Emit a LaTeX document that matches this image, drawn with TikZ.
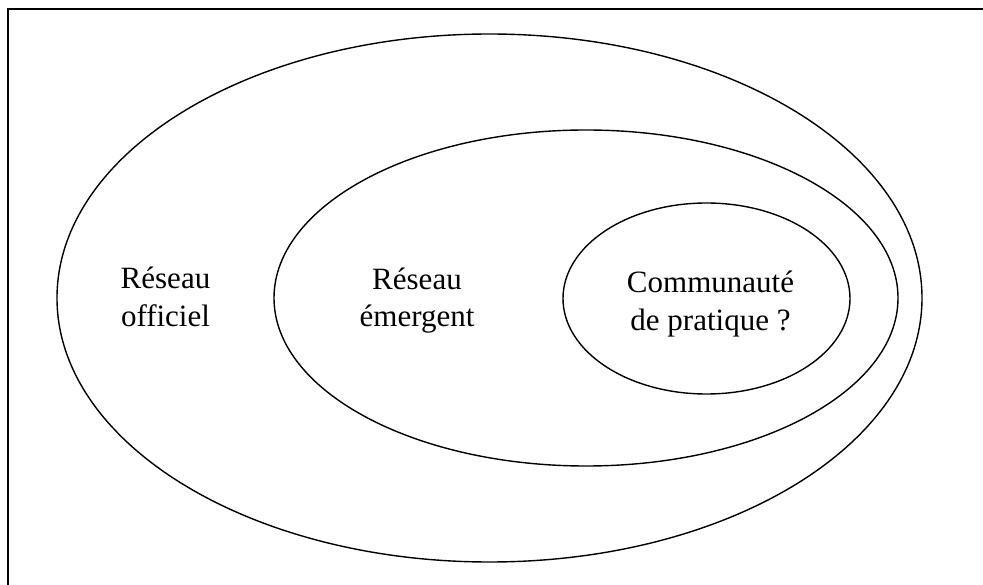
\documentclass[tikz,border=0pt]{standalone}
\usepackage{fontspec}
\setmainfont{Liberation Serif}
\begin{document}
\begin{tikzpicture}[x=1pt,y=-1pt,
  ring/.style={draw=black,line width=1.4pt},
  lbl/.style={align=center,anchor=base,inner sep=0pt,
    font=\fontsize{31pt}{37.5pt}\selectfont}]
\useasboundingbox (0,0) rectangle (983,585);
\clip (0,0) rectangle (983,585);
\fill[white] (0,0) rectangle (983,585);
% frame (only top and left edges visible)
\draw[line width=1.8pt] (8,600) -- (8,9) -- (1000,9);
% ellipses
\draw[ring] (489.5,298) ellipse [x radius=432.5pt, y radius=264pt];
\draw[ring] (586,298) ellipse [x radius=312pt, y radius=168pt];
\draw[ring] (706.5,298.5) ellipse [x radius=143.5pt, y radius=95.5pt];
% labels (anchor = baseline of last line)
\node[lbl] (officiel) at (165.5,326.5) {Réseau\\officiel};
\node[lbl] (emergent) at (417,327) {Réseau\\émergent};
\node[lbl] (cop) at (710.5,330.5) {Communauté\\de pratique ?};
\end{tikzpicture}
\end{document}
